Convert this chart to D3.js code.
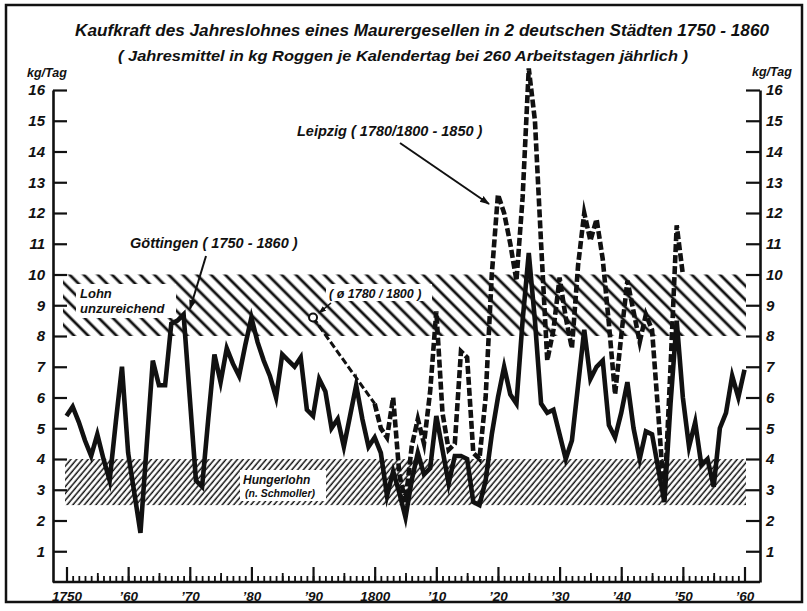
<!DOCTYPE html>
<html><head><meta charset="utf-8">
<script src="https://cdn.jsdelivr.net/npm/d3@7"></script>
<style>
body{margin:0;background:#fff;}
svg text{font-family:"Liberation Sans", Arial, sans-serif;font-weight:bold;font-style:italic;fill:#111;}
</style></head><body>
<svg id="chart" width="807" height="611"></svg>
<script>
// ---------- data ----------
const years = d3.range(1750, 1861);
const goettingen = [
  5.4, 5.7, 5.2, 4.6, 4.1, 4.8, 4.0, 3.3, 5.2, 7.0,
  4.2, 2.9, 1.6, 4.4, 7.2, 6.4, 6.4, 8.4, 8.5, 8.7,
  6.0, 3.3, 3.1, 5.3, 7.4, 6.5, 7.6, 7.1, 6.7, 7.7,
  8.6, 7.8, 7.2, 6.7, 6.0, 7.4, 7.2, 7.0, 7.3, 5.6,
  5.4, 6.6, 6.2, 5.0, 5.3, 4.4, 5.4, 6.4, 5.3, 4.4,
  4.7, 4.2, 2.8, 3.6, 2.9, 2.1, 3.3, 4.2, 3.5, 3.7,
  5.4, 4.3, 3.2, 4.1, 4.1, 4.0, 2.6, 2.5, 3.3, 4.8,
  6.0, 7.0, 6.1, 5.8, 8.5, 10.7, 8.5, 5.8, 5.5, 5.6,
  4.8, 4.0, 4.6, 6.4, 8.2, 6.6, 7.0, 7.2, 5.1, 4.7,
  5.5, 6.5, 5.0, 4.0, 4.9, 4.8, 3.7, 2.6, 5.8, 8.5,
  6.0, 4.4, 5.2, 3.8, 4.0, 3.1, 5.0, 5.5, 6.7, 6.0,
  6.9
];
const leipzigYears = d3.range(1800, 1851);
const leipzig = [
  5.8, 5.0, 4.7, 6.0, 3.5, 2.6, 4.4, 5.3, 4.5, 6.2,
  8.8, 5.5, 4.3, 4.5, 7.5, 7.3, 4.2, 4.0, 6.0, 10.0,
  12.6, 12.0, 11.0, 9.8, 12.5, 16.7, 15.0, 11.0, 7.2, 8.2,
  9.9, 8.6, 7.6, 10.3, 12.0, 11.1, 11.8, 10.5, 8.4, 6.1,
  8.0, 9.8, 8.8, 7.8, 8.7, 8.2, 5.5, 2.7, 7.0, 11.6,
  10.0
];
const avgYear = 1790;          // Ø 1780/1800
const avgValue = 8.6;
const yTicks = d3.range(1, 17);
const decadeYears = d3.range(1750, 1861, 10);
const decadeLabels = ["1750","’60","’70","’80","’90","1800","’10","’20","’30","’40","’50","’60"];
const bandLohn = [8, 10];
const bandHunger = [2.5, 4];
const titleText = "Kaufkraft des Jahreslohnes eines Maurergesellen in 2 deutschen Städten 1750 - 1860";
const subtitleText = "( Jahresmittel in kg Roggen je Kalendertag  bei  260 Arbeitstagen jährlich )";
const unitText = "kg/Tag";

// ---------- setup ----------
const svg = d3.select("#chart");
const x = d3.scaleLinear().domain([1750, 1860]).range([66.5, 744.5]);
const y = d3.scaleLinear().domain([0, 16]).range([582, 90]);
const axL = 53, axR = 760;

const defs = svg.append("defs");
const p1 = defs.append("pattern").attr("id","hatchLohn").attr("patternUnits","userSpaceOnUse")
  .attr("width",10).attr("height",10).attr("patternTransform","rotate(-45)");
p1.append("line").attr("x1",5).attr("x2",5).attr("y1",0).attr("y2",10).attr("stroke","#111").attr("stroke-width",2.8);
const p2 = defs.append("pattern").attr("id","hatchHunger").attr("patternUnits","userSpaceOnUse")
  .attr("width",4.4).attr("height",10).attr("patternTransform","rotate(40)");
p2.append("line").attr("x1",2).attr("x2",2).attr("y1",0).attr("y2",10).attr("stroke","#111").attr("stroke-width",1.5);
const mk = defs.append("marker").attr("id","arrow").attr("viewBox","0 0 10 10").attr("refX",9).attr("refY",5)
  .attr("markerWidth",5).attr("markerHeight",5).attr("orient","auto").attr("markerUnits","strokeWidth");
mk.append("path").attr("d","M0,1.5 L10,5 L0,8.5 Z").attr("fill","#111");

// frame
svg.append("rect").attr("x",6).attr("y",5).attr("width",796).attr("height",597)
  .attr("fill","none").attr("stroke","#111").attr("stroke-width",2.5);

// titles
svg.append("text").attr("x",422).attr("y",36).attr("text-anchor","middle").attr("font-size",17)
  .attr("textLength",694).attr("lengthAdjust","spacingAndGlyphs").text(titleText);
svg.append("text").attr("x",403).attr("y",61).attr("text-anchor","middle").attr("font-size",14)
  .attr("textLength",570).attr("lengthAdjust","spacingAndGlyphs").text(subtitleText);
svg.append("text").attr("x",27).attr("y",77).attr("font-size",12.5).text(unitText);
svg.append("text").attr("x",752).attr("y",76).attr("font-size",12.5).text(unitText);

// bands
const bandX0 = 63, bandX1 = 746;
svg.append("rect").attr("x",bandX0).attr("y",y(bandLohn[1])).attr("width",bandX1-bandX0)
  .attr("height",y(bandLohn[0])-y(bandLohn[1])).attr("fill","url(#hatchLohn)");
svg.append("rect").attr("x",bandX0+2).attr("y",y(bandHunger[1])).attr("width",bandX1-bandX0-2)
  .attr("height",y(bandHunger[0])-y(bandHunger[1])).attr("fill","url(#hatchHunger)");

// white boxes for labels
[[76,284,100,34],[326,284,106,17],[240,470,86,31]].forEach(b=>{
  svg.append("rect").attr("x",b[0]).attr("y",b[1]).attr("width",b[2]).attr("height",b[3]).attr("fill","#fff");
});
svg.append("text").attr("x",80).attr("y",298).attr("font-size",13).text("Lohn");
svg.append("text").attr("x",80).attr("y",313).attr("font-size",13).text("unzureichend");
svg.append("text").attr("x",243).attr("y",484).attr("font-size",12).text("Hungerlohn");
svg.append("text").attr("x",245).attr("y",497).attr("font-size",10.5).text("(n. Schmoller)");
svg.append("text").attr("x",329).attr("y",298).attr("font-size",12.5).text("( ø 1780 / 1800 )");

// axes
const gL = svg.append("g").attr("transform",`translate(${axL},0)`)
  .call(d3.axisLeft(y).tickValues(yTicks).tickSize(-14).tickSizeOuter(0).tickPadding(8));
const gR = svg.append("g").attr("transform",`translate(${axR},0)`)
  .call(d3.axisRight(y).tickValues(yTicks).tickSize(-14).tickSizeOuter(0).tickPadding(6));
[gL,gR].forEach(g=>{
  g.select(".domain").attr("stroke","#111").attr("stroke-width",2.6);
  g.selectAll(".tick line").attr("stroke","#111").attr("stroke-width",2.2);
  g.selectAll(".tick text").attr("font-size",15).attr("fill","#111")
   .attr("font-family","Liberation Sans, Arial, sans-serif").attr("font-weight","bold").attr("font-style","italic");
});
// baseline
svg.append("line").attr("x1",axL).attr("x2",axR).attr("y1",y(0)).attr("y2",y(0)).attr("stroke","#111").attr("stroke-width",2.6);
const gB1 = svg.append("g").attr("transform",`translate(0,${y(0)})`)
  .call(d3.axisBottom(x).tickValues(years).tickSize(-6).tickFormat(""));
const gB5 = svg.append("g").attr("transform",`translate(0,${y(0)})`)
  .call(d3.axisBottom(x).tickValues(d3.range(1755,1860,10)).tickSize(-9).tickFormat(""));
const gB10 = svg.append("g").attr("transform",`translate(0,${y(0)})`)
  .call(d3.axisBottom(x).tickValues(decadeYears).tickSize(-15).tickPadding(6).tickFormat((d,i)=>decadeLabels[i]));
[gB1,gB5,gB10].forEach(g=>{
  g.select(".domain").remove();
  g.selectAll(".tick line").attr("stroke","#111").attr("stroke-width",1.8);
});
gB10.selectAll(".tick text").attr("font-size",13.5).attr("fill","#111").attr("dy","0.95em")
  .attr("font-family","Liberation Sans, Arial, sans-serif").attr("font-weight","bold").attr("font-style","italic");
gB10.selectAll(".tick line").attr("stroke-width",2.2);

// lines
const line = d3.line().x(d=>x(d[0])).y(d=>y(d[1]));
svg.append("path").datum(years.map((yr,i)=>[yr,goettingen[i]]))
  .attr("d",line).attr("fill","none").attr("stroke","#111").attr("stroke-width",4.6)
  .attr("stroke-linejoin","miter").attr("stroke-miterlimit",6);
const lp = [[avgYear, avgValue]].concat(leipzigYears.map((yr,i)=>[yr,leipzig[i]]));
svg.append("path").datum(lp.slice(0,2))
  .attr("d",line).attr("fill","none").attr("stroke","#111").attr("stroke-width",3)
  .attr("stroke-dasharray","7,3");
svg.append("path").datum(lp.slice(1))
  .attr("d",line).attr("fill","none").attr("stroke","#111").attr("stroke-width",4.6)
  .attr("stroke-dasharray","8,3").attr("stroke-linejoin","miter").attr("stroke-miterlimit",6);
svg.append("circle").attr("cx",x(avgYear)).attr("cy",y(avgValue)).attr("r",4)
  .attr("fill","#fff").attr("stroke","#111").attr("stroke-width",2);

// annotations
svg.append("text").attr("x",130).attr("y",248).attr("font-size",14.5).text("Göttingen ( 1750 - 1860 )");
svg.append("line").attr("x1",206).attr("y1",256).attr("x2",190).attr("y2",309)
  .attr("stroke","#111").attr("stroke-width",2).attr("marker-end","url(#arrow)");
svg.append("text").attr("x",297).attr("y",136).attr("font-size",14.5).text("Leipzig ( 1780/1800 - 1850 )");
svg.append("line").attr("x1",400).attr("y1",143).attr("x2",489).attr("y2",204)
  .attr("stroke","#111").attr("stroke-width",2).attr("marker-end","url(#arrow)");
svg.append("line").attr("x1",331).attr("y1",303).attr("x2",319).attr("y2",313)
  .attr("stroke","#111").attr("stroke-width",1.6).attr("marker-end","url(#arrow)");
</script>
</body></html>
